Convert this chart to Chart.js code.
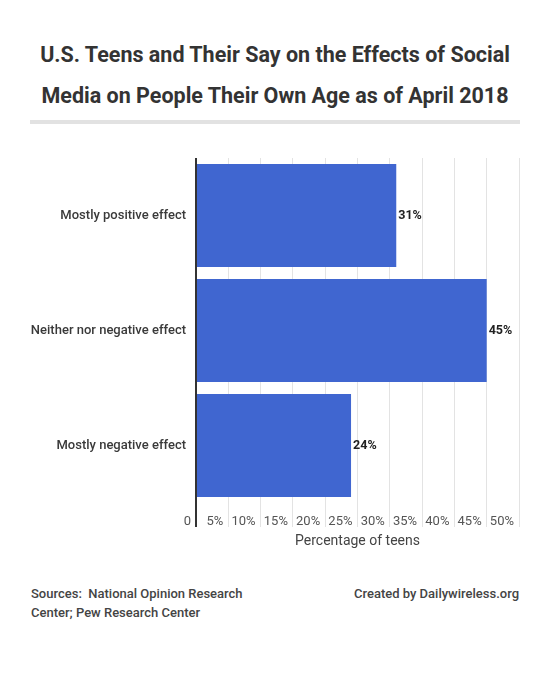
<!DOCTYPE html>
<html>
<head>
<meta charset="utf-8">
<script src="https://cdn.jsdelivr.net/npm/chart.js@4.4.1/dist/chart.umd.min.js"></script>
<style>
  html, body { margin: 0; padding: 0; background: #fff; }
  body { width: 550px; height: 683px; position: relative; overflow: hidden; font-family: Roboto, 'Noto Sans', sans-serif; }
  .title { position: absolute; top: 34px; left: 0; width: 550px; text-align: center; font-size: 21.5px; font-weight: 700; line-height: 41px; color: #333; }
  .rule { position: absolute; top: 120px; left: 30px; width: 490px; height: 4px; background: #e2e2e2; }
  #chartBox { position: absolute; top: 140px; left: 0; width: 550px; height: 420px; }
  .foot { position: absolute; top: 584px; font-size: 13px; font-weight: 500; line-height: 19px; color: #444; }
  .src { left: 31px; width: 225px; }
  .made { right: 31px; text-align: right; }
</style>
</head>
<body>
<div class="title">U.S. Teens and Their Say on the Effects of Social<br>Media on People Their Own Age as of April 2018</div>
<div class="rule"></div>
<div id="chartBox"><canvas id="chart" width="550" height="420"></canvas></div>
<div class="foot src">Sources:&nbsp; National Opinion Research Center; Pew Research Center</div>
<div class="foot made">Created by Dailywireless.org</div>

<script>
/* data */
const categories = ['Mostly positive effect', 'Neither nor negative effect', 'Mostly negative effect'];
const shares = [31, 45, 24];
const xTicks = [0, 5, 10, 15, 20, 25, 30, 35, 40, 45, 50];

const BAR_COLOR = '#4066d0';
const FONT = "Roboto, 'Noto Sans', sans-serif";

/* value labels at bar ends */
const endLabels = {
  id: 'endLabels',
  afterDatasetsDraw(chart) {
    const { ctx } = chart;
    const meta = chart.getDatasetMeta(0);
    ctx.save();
    ctx.font = `bold 12.5px ${FONT}`;
    ctx.fillStyle = '#222';
    ctx.textAlign = 'left';
    ctx.textBaseline = 'middle';
    meta.data.forEach((bar, i) => {
      ctx.fillText(shares[i] + '%', bar.x + 2, bar.y);
    });
    ctx.restore();
  }
};

new Chart(document.getElementById('chart'), {
  type: 'bar',
  data: {
    labels: categories,
    datasets: [{
      data: shares,
      backgroundColor: BAR_COLOR,
      borderWidth: 0,
      barPercentage: 0.895,
      categoryPercentage: 1,
    }]
  },
  options: {
    indexAxis: 'y',
    responsive: false,
    animation: false,
    layout: { padding: { top: 18, right: 31, left: 0, bottom: 0 } },
    scales: {
      x: {
        min: 0, max: 50,
        afterBuildTicks: axis => { axis.ticks = xTicks.map(v => ({ value: v })); },
        afterFit: axis => { axis.height = 57; },
        border: { display: false },
        grid: {
          color: c => c.tick && c.tick.value === 0 ? '#333' : '#e3e3e3',
          tickColor: c => c.tick && c.tick.value === 0 ? '#333' : '#e3e3e3',
          lineWidth: c => c.tick && c.tick.value === 0 ? 2 : 1,
          tickLength: 24,
        },
        ticks: {
          align: 'end',
          labelOffset: -5,
          padding: -13,
          maxRotation: 0,
          autoSkip: false,
          color: '#555',
          font: { family: FONT, size: 13 },
          callback: v => v === 0 ? '0' : v + '%'
        },
        title: {
          display: true,
          text: 'Percentage of teens',
          color: '#444',
          font: { family: FONT, size: 14 },
          padding: { top: 0, bottom: 10 }
        }
      },
      y: {
        afterFit: axis => { axis.width = 196; },
        border: { display: false },
        grid: { display: false, drawTicks: false },
        ticks: {
          padding: 10,
          color: '#3a3a3a',
          font: { family: FONT, size: 13, weight: 500 }
        }
      }
    },
    plugins: {
      legend: { display: false },
      tooltip: { enabled: false }
    }
  },
  plugins: [endLabels]
});
</script>
</body>
</html>
